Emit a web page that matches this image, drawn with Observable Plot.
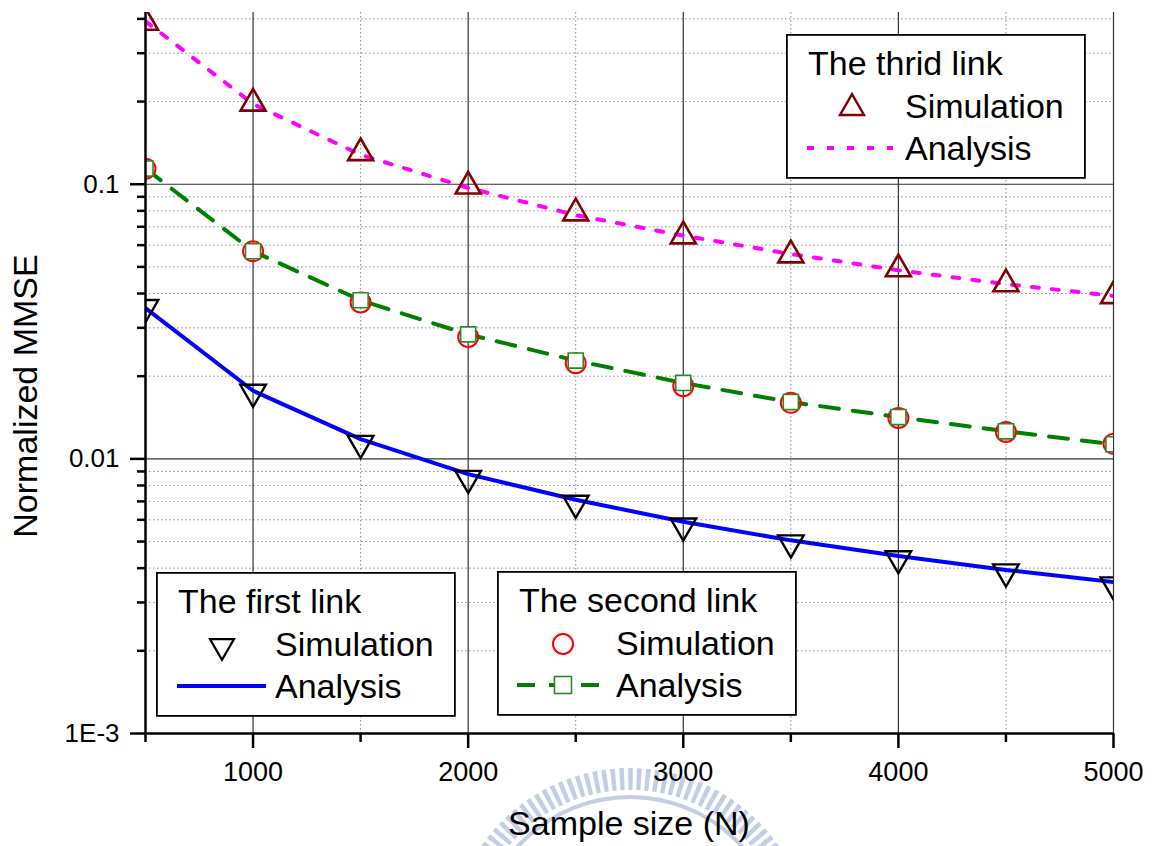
<!DOCTYPE html>
<html>
<head>
<meta charset="utf-8">
<script src="https://cdn.jsdelivr.net/npm/d3@7"></script>
<script src="https://cdn.jsdelivr.net/npm/@observablehq/plot@0.6"></script>
<style>
  html, body { margin: 0; padding: 0; background: #ffffff; }
  #wrap { position: relative; width: 1152px; height: 846px; overflow: hidden;
          font-family: "Liberation Sans", Arial, Helvetica, sans-serif; }
  #wrap > svg { position: absolute; left: 0; top: 0; }
</style>
</head>
<body>
<div id="wrap"></div>
<script>
// ---------------- data ----------------
const sampleSizes = [500, 1000, 1500, 2000, 2500, 3000, 3500, 4000, 4500, 5000];

const link1Simulation = [0.0356, 0.0175, 0.0114, 0.0085, 0.0069, 0.0057, 0.00495, 0.00433, 0.00388, 0.00348];
const link1Analysis   = [0.0354, 0.0177, 0.0118, 0.0088, 0.0071, 0.0059, 0.00505, 0.00443, 0.00394, 0.00356];

const link2Simulation = [0.1139, 0.0570, 0.0371, 0.0278, 0.0223, 0.0184, 0.0160, 0.0141, 0.01253, 0.01135];
const link2Analysis   = [0.1140, 0.0570, 0.0378, 0.0284, 0.0228, 0.0189, 0.0161, 0.0142, 0.01260, 0.01130];

const link3Simulation = [0.388, 0.197, 0.130, 0.0983, 0.0785, 0.0647, 0.0552, 0.0491, 0.0433, 0.0392];
const link3Analysis   = [0.392, 0.196, 0.128, 0.0970, 0.0772, 0.0650, 0.0557, 0.0486, 0.0433, 0.0392];

const xMajorTicks = [1000, 2000, 3000, 4000, 5000];
const xMinorTicks = [500, 1500, 2500, 3500, 4500];
const yMajorTicks = [0.001, 0.01, 0.1];
const yTickLabels = ["1E-3", "0.01", "0.1"];
const yMinorTicks = [0.002, 0.003, 0.004, 0.005, 0.006, 0.007, 0.008, 0.009,
                     0.02, 0.03, 0.04, 0.05, 0.06, 0.07, 0.08, 0.09,
                     0.2, 0.3, 0.4];

const xTitle = "Sample size (N)";
const yTitle = "Normalized MMSE";
const legendTitles = ["The first link", "The second link", "The thrid link"];
const legendRowLabels = ["Simulation", "Analysis"];

// ---------------- table ----------------
const table = sampleSizes.map((n, i) => ({
  n,
  s1: link1Simulation[i], a1: link1Analysis[i],
  s2: link2Simulation[i], a2: link2Analysis[i],
  s3: link3Simulation[i], a3: link3Analysis[i]
}));

// downward triangle symbol (centroid-centred, like d3.symbolTriangle flipped)
const triangleDown = {
  draw(ctx, size) {
    const y = Math.sqrt(size / (3 * Math.sqrt(3)));
    ctx.moveTo(0, 2 * y);
    ctx.lineTo(-Math.sqrt(3) * y, -y);
    ctx.lineTo(Math.sqrt(3) * y, -y);
    ctx.closePath();
  }
};

const wrap = document.getElementById("wrap");
const FONT = "'Liberation Sans', Arial, Helvetica, sans-serif";

// ---------------- faint watermark (behind the chart) ----------------
const wm = d3.select(wrap).append("svg").attr("width", 1152).attr("height", 846);
wm.append("circle").attr("cx", 630).attr("cy", 949).attr("r", 170)
  .attr("fill", "none").attr("stroke", "#c3cde6").attr("stroke-width", 22)
  .attr("stroke-dasharray", "4.5,4");
wm.append("circle").attr("cx", 630).attr("cy", 949).attr("r", 152)
  .attr("fill", "none").attr("stroke", "#c3cde6").attr("stroke-width", 4);

// ---------------- chart ----------------
const gridMinor = { stroke: "#8a8a8a", strokeOpacity: 1, strokeWidth: 1, strokeDasharray: "1.5,2.5" };
const gridMajor = { stroke: "#333333", strokeOpacity: 1, strokeWidth: 1.2 };

const chart = Plot.plot({
  width: 1152,
  height: 846,
  marginLeft: 145,
  marginRight: 39,
  marginTop: 12,
  marginBottom: 113,
  style: { fontFamily: FONT, background: "transparent", color: "#000" },
  x: { domain: [500, 5000], label: null },
  y: { type: "log", domain: [0.001, 0.422], label: null },
  marks: [
    Plot.gridY(yMinorTicks, gridMinor),
    Plot.gridX(xMinorTicks.slice(1), gridMinor),
    Plot.gridY(yMajorTicks.slice(1), gridMajor),
    Plot.gridX(xMajorTicks, gridMajor),

    // analysis curves
    Plot.line(table, { x: "n", y: "a3", stroke: "#ff00ff", strokeWidth: 4, strokeDasharray: "7,13", clip: true }),
    Plot.line(table, { x: "n", y: "a2", stroke: "#008000", strokeWidth: 4, strokeDasharray: "19,14", clip: true }),
    Plot.line(table, { x: "n", y: "a1", stroke: "#0000ff", strokeWidth: 4, clip: true }),

    // markers
    Plot.dot(table, { x: "n", y: "s2", symbol: "circle", r: 10, stroke: "#ff0000", strokeWidth: 2, fill: "none", clip: true }),
    Plot.dot(table, { x: "n", y: "a2", symbol: "square", r: 8.5, stroke: "#2a8a2a", strokeWidth: 1.6, fill: "white", clip: true }),
    Plot.dot(table, { x: "n", y: "s3", symbol: "triangle", r: 9.3, stroke: "#800000", strokeWidth: 2.6, fill: "none", clip: true }),
    Plot.dot(table, { x: "n", y: "s1", symbol: triangleDown, r: 9.5, stroke: "#000000", strokeWidth: 2.4, fill: "none", clip: true }),

    // axes
    Plot.axisX(xMinorTicks, { tickSize: 9, tickFormat: () => "", strokeWidth: 2.5, label: null }),
    Plot.axisX(xMajorTicks, { tickSize: 15, tickPadding: 13, fontSize: 27, strokeWidth: 2.5,
                              tickFormat: d3.format("d"), label: null }),
    Plot.axisY(yMinorTicks, { tickSize: 8, tickFormat: () => "", strokeWidth: 2.5, label: null }),
    Plot.axisY(yMajorTicks, { tickSize: 15, tickPadding: 11, fontSize: 26, strokeWidth: 2.5,
                              tickFormat: d => yTickLabels[yMajorTicks.indexOf(d)], label: null }),
    Plot.ruleX([500], { stroke: "#000", strokeWidth: 2.5 }),
    Plot.ruleY([0.001], { stroke: "#000", strokeWidth: 2.5 })
  ]
});
wrap.appendChild(chart);

// ---------------- overlay: titles + legends ----------------
const ov = d3.select(wrap).append("svg").attr("width", 1152).attr("height", 846)
  .style("pointer-events", "none").attr("font-family", FONT);

ov.append("text").attr("x", 629).attr("y", 835).attr("text-anchor", "middle")
  .attr("font-size", 34).attr("fill", "#000").text(xTitle);
ov.append("text").attr("transform", "translate(37,396) rotate(-90)").attr("text-anchor", "middle")
  .attr("font-size", 34).attr("fill", "#000").text(yTitle);

const legends = [
  { title: legendTitles[0], left: 156, top: 572,
    sim: { kind: "triDown", stroke: "#000", sw: 2.2 },
    ana: { stroke: "#0000ff", dash: null, x1: 21, x2: 110, marker: null } },
  { title: legendTitles[1], left: 497, top: 571,
    sim: { kind: "circle", stroke: "#ff0000", sw: 2 },
    ana: { stroke: "#008000", dash: "18,14", x1: 20, x2: 106, marker: "square" } },
  { title: legendTitles[2], left: 786, top: 34,
    sim: { kind: "triUp", stroke: "#800000", sw: 2.4 },
    ana: { stroke: "#ff00ff", dash: "7,13", x1: 21, x2: 107, marker: null } }
];

const triSize = 3 * Math.sqrt(3) * Math.pow(24 / (2 * Math.sqrt(3)), 2);

legends.forEach(L => {
  const g = ov.append("g").attr("transform", `translate(${L.left},${L.top})`);
  g.append("rect").attr("x", 0.9).attr("y", 0.9).attr("width", 298).attr("height", 143)
    .attr("fill", "#fff").attr("stroke", "#000").attr("stroke-width", 1.8);
  g.append("text").attr("x", 22).attr("y", 41).attr("font-size", 34).attr("fill", "#000").text(L.title);
  g.append("text").attr("x", 119).attr("y", 84).attr("font-size", 34).attr("fill", "#000").text(legendRowLabels[0]);
  g.append("text").attr("x", 119).attr("y", 126).attr("font-size", 34).attr("fill", "#000").text(legendRowLabels[1]);

  // simulation symbol
  if (L.sim.kind === "circle") {
    g.append("circle").attr("cx", 66).attr("cy", 73).attr("r", 10)
      .attr("fill", "none").attr("stroke", L.sim.stroke).attr("stroke-width", L.sim.sw);
  } else {
    const p = d3.symbol(L.sim.kind === "triUp" ? d3.symbolTriangle : triangleDown, triSize)();
    g.append("path").attr("d", p).attr("transform", "translate(66,74)")
      .attr("fill", "none").attr("stroke", L.sim.stroke).attr("stroke-width", L.sim.sw);
  }
  // analysis line
  g.append("line").attr("x1", L.ana.x1).attr("x2", L.ana.x2).attr("y1", 114).attr("y2", 114)
    .attr("stroke", L.ana.stroke).attr("stroke-width", 4)
    .attr("stroke-dasharray", L.ana.dash);
  if (L.ana.marker === "square") {
    g.append("rect").attr("x", 57.5).attr("y", 105.5).attr("width", 17).attr("height", 17)
      .attr("fill", "#fff").attr("stroke", "#2a8a2a").attr("stroke-width", 1.6);
  }
});
</script>
</body>
</html>
